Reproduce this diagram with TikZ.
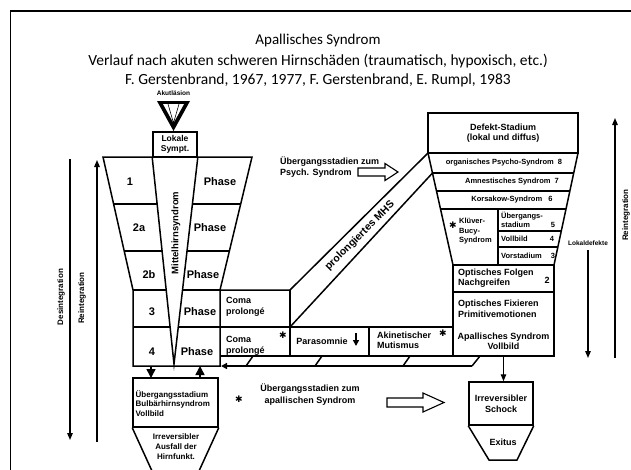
\documentclass[tikz,border=0pt]{standalone}
\usepackage{fontspec}
\setmainfont{Liberation Sans}
\newfontfamily\titlefont{Carlito}
\newfontfamily\symfont{DejaVu Sans}
\usetikzlibrary{arrows.meta}
\newcommand\fsz[2]{\fontsize{#1}{#2}\selectfont}
\begin{document}
\begin{tikzpicture}[x=1pt,y=-1pt,
  ln/.style={line width=1.5pt, line join=miter},
  box/.style={draw, line width=1.5pt, inner sep=0pt, align=center},
  t/.style={inner sep=0pt, font=\bfseries\fsz{9}{10.5}},
  tl/.style={inner sep=0pt, anchor=west, align=left, font=\bfseries\fsz{9}{10.5}},
  ts/.style={inner sep=0pt, font=\bfseries\fsz{7.5}{9}},
  ph/.style={inner sep=0pt, font=\bfseries\fsz{11}{13}},
  star/.style={inner sep=0pt, font=\symfont\fsz{9}{9}},
  arr/.style={line width=1.3pt, -{Triangle[length=7pt,width=5.5pt]}},
  tt/.style={inner sep=0pt, font=\titlefont\fsz{15.5}{18}}]
\useasboundingbox (0,0) rectangle (631,469);
\fill[white] (0,0) rectangle (631,469);
% frame
\draw[line width=1.3pt] (10.5,470) -- (10.5,11) -- (632,11);
% titles
\node[tt, font=\titlefont\fsz{15}{18}] (title) at (318,40) {Apallisches Syndrom};
\node[tt] (sub1) at (318,61) {Verlauf nach akuten schweren Hirnschäden (traumatisch, hypoxisch, etc.)};
\node[tt] (sub2) at (318,80) {F. Gerstenbrand, 1967, 1977, F. Gerstenbrand, E. Rumpl, 1983};
% Akutlaesion
\node[t, font=\bfseries\fsz{6.5}{7}] (akut) at (173.5,93.5) {Akutläsion};
\fill (157,101) -- (190,101) -- (173.5,131) -- cycle;
\fill[white] (163,104) -- (184,104) -- (173.5,123) -- cycle;
\draw[line width=0.6pt] (168,104) -- (173.5,123) -- (179,104);
% Lokale box
\node[box, minimum width=44pt, minimum height=25pt, font=\bfseries\fsz{8.5}{10}] (lokale) at (175,144.5) {Lokale\\Sympt.};
% funnel
\draw[ln] (103,157) -- (252,157) -- (220,290) -- (220,366) -- (133,366) -- (133,290) -- cycle;
\draw[ln] (lokale.south west) -- (174,364) -- (lokale.south east);
\draw[ln] (113.6,204) -- (157.8,204) (191.8,204) -- (240.7,204);
\draw[ln] (124.2,251) -- (162.5,251) (186.6,251) -- (229.4,251);
\draw[ln] (133,290) -- (166.5,290) (182.2,290) -- (220,290);
\draw[ln] (133,327) -- (170.2,327) (178.1,327) -- (453,327);
% coma boxes and row 4 boxes
\draw[ln] (220,290) -- (290,290) -- (428,153);
\draw[ln] (290,327) -- (432.5,173);
\draw[ln] (290,290) -- (290,356);
\draw[ln] (369,327) -- (369,356);
\draw[ln] (220,356) -- (554,356);
% rail
\draw[ln, -{Triangle[length=6pt,width=6pt]}] (472,366) -- (221,366);
\draw[ln] (480,356) -- (472,366);
\draw[ln] (253,356) -- (246,366) (322,356) -- (315,366) (410,356) -- (403,366);
% Defekt side
\node[box, minimum width=150pt, minimum height=40pt, font=\bfseries\fsz{9}{10.5}] (defekt) at (503,133) {Defekt-Stadium\\(lokal und diffus)};
\draw[ln] (428,153) -- (578,153) -- (554,265) -- (453,265) -- cycle;
\draw[ln] (432.5,173) -- (573.7,173) (436.5,191) -- (569.9,191) (440.5,209) -- (566,209);
\draw[ln] (498,209) -- (498,265) (498,231) -- (561.3,231) (498,247) -- (557.9,247);
\draw[ln] (453,265) rectangle (554,356);
\draw[ln] (453,292) -- (554,292);
\node[t, minimum width=101pt, minimum height=29pt, align=center] (vollbild) at (503.5,341.5) {Apallisches Syndrom\\Vollbild};
% Schock / Exitus
\node[box, minimum width=64pt, minimum height=43pt, font=\bfseries\fsz{9}{11}] (schock) at (501,403.5) {Irreversibler\\Schock};
\draw[arr] (vollbild.south) -- (vollbild.south |- schock.north);
\draw[ln] (schock.south west) -- (489,460) -- (517,460) -- (schock.south east);
\node[t] (exitus) at (503,442) {Exitus};
% Bulbaer
\node[box, minimum width=85pt, minimum height=49pt] (bulbar) at (175.5,402.5) {};
\node[tl, font=\bfseries\fsz{8}{9.5}] (bulbtxt) at (135.5,403.5) {Übergangsstadium\\Bulbärhirnsyndrom\\Vollbild};
\draw[ln] (bulbar.south west) -- (152,471);
\draw[ln] (bulbar.south east) -- (199,471);
\node[t, align=center, font=\bfseries\fsz{8}{10}] (ausfall) at (176,447) {Irreversibler\\Ausfall der\\Hirnfunkt.};
\draw[ln, -{Triangle[length=9pt,width=9pt]}] (151,366) -- (151,378);
\draw[ln, -{Triangle[length=9pt,width=9pt]}] (200,378) -- (200,366);
% funnel texts
\node[ph] (p1n) at (130,182) {1};
\node[ph] (p1) at (220,182) {Phase};
\node[ph] (p2an) at (139,228) {2a};
\node[ph] (p2a) at (210,228) {Phase};
\node[ph] (p2bn) at (149,275) {2b};
\node[ph] (p2b) at (203,275) {Phase};
\node[ph] (p3n) at (152,312) {3};
\node[ph] (p3) at (200,312) {Phase};
\node[ph] (p4n) at (152,352) {4};
\node[ph] (p4) at (197,352) {Phase};
\node[ph, rotate=90, font=\bfseries\fsz{9.5}{11}] (mhs) at (176,233) {Mittelhirnsyndrom};
% row texts
\node[tl] (coma3) at (226,307) {Coma\\prolongé};
\node[tl] (coma4) at (226,346) {Coma\\prolongé};
\node[star] (s1) at (283,335) {✱};
\node[t] (paras) at (322,341) {Parasomnie};
\draw[line width=1.6pt, -{Triangle[length=6pt,width=6pt]}] (356,333) -- (356,346);
\node[tl] (akin) at (377,340.5) {Akinetischer\\Mutismus};
\node[star] (s2) at (443,333) {✱};
\node[ph, rotate=45, font=\bfseries\fsz{10.5}{12}] (prolmhs) at (360,236) {prolongiertes MHS};
% Defekt rows
\node[ts] (r8) at (504,163) {organisches Psycho-Syndrom \ 8};
\node[ts] (r7) at (512,182) {Amnestisches Syndrom \ 7};
\node[ts] (r6) at (512,200) {Korsakow-Syndrom \ \ 6};
\node[star] (s3) at (453,225) {✱};
\node[tl, font=\bfseries\fsz{7.5}{9.5}] (kluver) at (459,231.5) {Klüver-\\Bucy-\\Syndrom};
\node[tl, font=\bfseries\fsz{7.5}{9}] (uberg) at (501,219.5) {Übergangs-\\stadium};
\node[ts] (n5) at (553,225) {5};
\node[ts, anchor=west] (vb4) at (501,239) {Vollbild};
\node[ts] (n4) at (552,239) {4};
\node[ts, anchor=west] (vs3) at (501,256) {Vorstadium};
\node[ts] (n3) at (553,256) {3};
\node[tl] (folgen) at (458,278) {Optisches Folgen\\Nachgreifen};
\node[t] (n2) at (547,280) {2};
\node[tl] (fix) at (458,309) {Optisches Fixieren\\Primitivemotionen};
% transitions
\node[tl, font=\bfseries\fsz{9}{11}] (upsy) at (280,167.5) {Übergangsstadien zum\\Psych. Syndrom};
\draw[line width=1.1pt] (358,168) -- (385,168) -- (385,163.5) -- (398,172) -- (385,180.5) -- (385,176) -- (358,176) -- cycle;
\node[t, align=center, font=\bfseries\fsz{9}{12}] (uapa) at (310,394.5) {Übergangsstadien zum\\apallischen Syndrom};
\node[star] (s4) at (239,399) {✱};
\draw[line width=1.1pt] (387,398) -- (423,398) -- (423,393) -- (444,402.5) -- (423,412) -- (423,407) -- (387,407) -- cycle;
% side arrows
\draw[arr] (70,159) -- (70,440);
\draw[arr] (97,442) -- (97,160);
\node[t, rotate=90, font=\bfseries\fsz{8}{9}] (desint) at (61,297) {Desintegration};
\node[t, rotate=90, font=\bfseries\fsz{8}{9}] (reint1) at (82,298) {Reintegration};
\node[t, font=\bfseries\fsz{6.5}{7}] (lokdef) at (588,243) {Lokaldefekte};
\draw[arr] (588,250) -- (588,358);
\draw[arr] (615,358) -- (615,118);
\node[t, rotate=90, font=\bfseries\fsz{8}{9}] (reint2) at (626,215) {Reintegration};
\end{tikzpicture}
\end{document}
